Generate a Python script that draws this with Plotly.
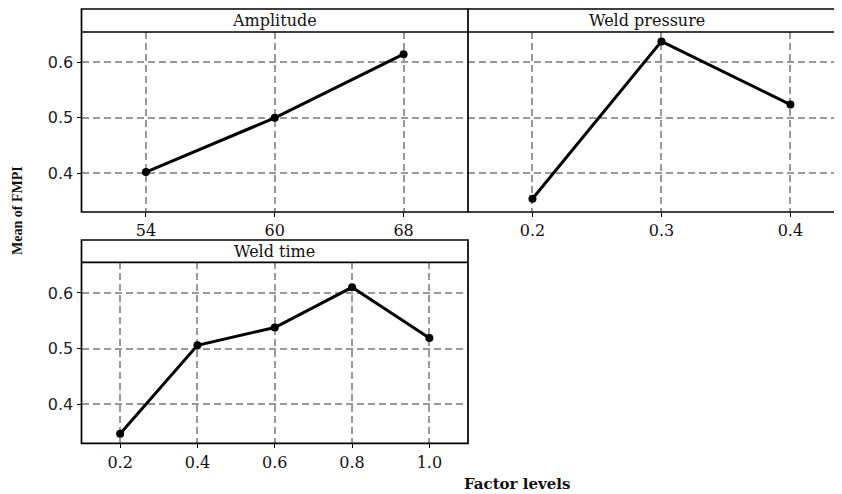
import plotly.graph_objects as go

# factor levels and mean FMPI
amp_levels = ['54', '60', '68']
amp_means = [0.402, 0.500, 0.615]

press_levels = ['0.2', '0.3', '0.4']
press_means = [0.354, 0.638, 0.524]

time_levels = ['0.2', '0.4', '0.6', '0.8', '1.0']
time_means = [0.347, 0.506, 0.538, 0.610, 0.519]

y_ticks = [0.4, 0.5, 0.6]

# the page body has an 8px margin, so the figure is a bit smaller than the window
OFF = 8
W, H = 842 - OFF, 494 - OFF


def px_x(v):
    # window pixel -> paper fraction
    return (v - OFF) / W


def px_y(v):
    return 1 - (v - OFF) / H


fig = go.Figure()

panels = [
    ('x', 'y', amp_levels, amp_means),
    ('x2', 'y2', press_levels, press_means),
    ('x3', 'y3', time_levels, time_means),
]
for xa, ya, lv, mv in panels:
    fig.add_trace(go.Scatter(
        x=lv, y=mv, xaxis=xa, yaxis=ya, mode='lines+markers',
        line=dict(color='black', width=3),
        marker=dict(color='black', size=8),
        showlegend=False,
    ))

grid = dict(showgrid=True, gridcolor='#999999', gridwidth=1.5, griddash='7px,4px',
            zeroline=False, showline=False)
xfont = dict(family='DejaVu Serif', size=16, color='#111')
yfont = dict(family='DejaVu Sans', size=16, color='#222')
yr = [0.330, 0.655]

top_dom = [px_y(212), px_y(32)]
bot_dom = [px_y(443.3), px_y(262.3)]
left_dom = [px_x(81.5), px_x(468)]
right_dom = [px_x(468), 1.0]

fig.update_layout(
    width=W, height=H,
    margin=dict(l=0, r=0, t=0, b=0),
    paper_bgcolor='white', plot_bgcolor='white',
    xaxis=dict(domain=left_dom, anchor='y', type='category', range=[-0.5, 2.5],
               ticks='outside', ticklen=4, tickcolor='black', tickfont=xfont, **grid),
    yaxis=dict(domain=top_dom, anchor='x', range=yr, tickvals=y_ticks, ticktext=['0.4', '0.5', '0.6'],
               ticks='outside', ticklen=4, tickcolor='black', tickfont=yfont, **grid),
    xaxis2=dict(domain=right_dom, anchor='y2', type='category', range=[-0.5, 2.40],
                ticks='outside', ticklen=4, tickcolor='black', tickfont=xfont, **grid),
    yaxis2=dict(domain=top_dom, anchor='x2', range=yr, tickvals=y_ticks, showticklabels=False, **grid),
    xaxis3=dict(domain=left_dom, anchor='y3', type='category', range=[-0.5, 4.5],
                ticks='outside', ticklen=4, tickcolor='black', tickfont=xfont, **grid),
    yaxis3=dict(domain=bot_dom, anchor='x3', range=yr, tickvals=y_ticks, ticktext=['0.4', '0.5', '0.6'],
                ticks='outside', ticklen=4, tickcolor='black', tickfont=yfont, **grid),
)

# panel frames and strips
border = dict(color='black', width=1.7)
shapes = []
strip_top, strip_bot = 9, 32
# top-left
shapes.append(dict(type='rect', xref='paper', yref='paper', x0=left_dom[0], x1=left_dom[1],
                   y0=px_y(212), y1=px_y(strip_top), line=border))
shapes.append(dict(type='line', xref='paper', yref='paper', x0=left_dom[0], x1=left_dom[1],
                   y0=px_y(strip_bot), y1=px_y(strip_bot), line=border))
# top-right (clipped at the right edge, no right border)
for y in [strip_top, strip_bot, 212]:
    shapes.append(dict(type='line', xref='paper', yref='paper', x0=right_dom[0], x1=1.0,
                       y0=px_y(y), y1=px_y(y), line=border))
# bottom
shapes.append(dict(type='rect', xref='paper', yref='paper', x0=left_dom[0], x1=left_dom[1],
                   y0=px_y(443.3), y1=px_y(240), line=border))
shapes.append(dict(type='line', xref='paper', yref='paper', x0=left_dom[0], x1=left_dom[1],
                   y0=px_y(262.3), y1=px_y(262.3), line=border))
fig.update_layout(shapes=shapes)

strip_font = dict(family='DejaVu Serif', size=16, color='#111')
annotations = [
    dict(text='Amplitude', x=(left_dom[0] + left_dom[1]) / 2, y=px_y(20.5)),
    dict(text='Weld pressure', x=px_x((468 + 842) / 2 - 8), y=px_y(20.5)),
    dict(text='Weld time', x=(left_dom[0] + left_dom[1]) / 2, y=px_y(251.2)),
]
for a in annotations:
    a.update(xref='paper', yref='paper', showarrow=False, font=strip_font,
             xanchor='center', yanchor='middle')
annotations.append(dict(text='<b>Factor levels</b>', x=px_x(517), y=px_y(484), xref='paper', yref='paper',
                        showarrow=False, font=dict(family='DejaVu Serif', size=15, color='#111'),
                        xanchor='center', yanchor='middle'))
annotations.append(dict(text='<b>Mean of FMPI</b>', x=px_x(18), y=px_y(211), xref='paper', yref='paper',
                        showarrow=False, textangle=-90,
                        font=dict(family='Liberation Serif', size=14, color='#111'),
                        xanchor='center', yanchor='middle'))
fig.update_layout(annotations=annotations)

fig.write_html('out.html')
